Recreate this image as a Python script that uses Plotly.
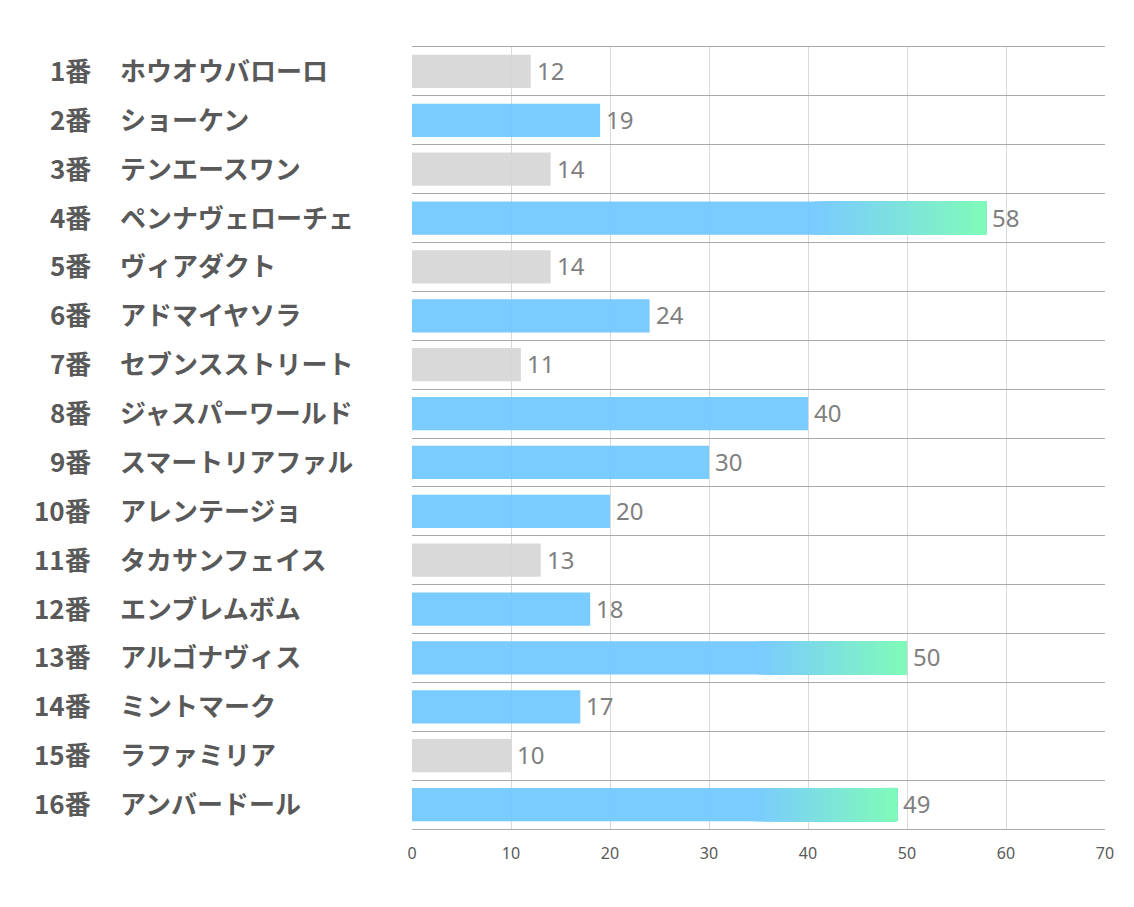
import plotly.graph_objects as go

numbers = ["1番", "2番", "3番", "4番", "5番", "6番", "7番", "8番",
           "9番", "10番", "11番", "12番", "13番", "14番", "15番", "16番"]
names = ["ホウオウバローロ", "ショーケン", "テンエースワン", "ペンナヴェローチェ",
         "ヴィアダクト", "アドマイヤソラ", "セブンスストリート", "ジャスパーワールド",
         "スマートリアファル", "アレンテージョ", "タカサンフェイス", "エンブレムボム",
         "アルゴナヴィス", "ミントマーク", "ラファミリア", "アンバードール"]
values = [12, 19, 14, 58, 14, 24, 11, 40, 30, 20, 13, 18, 50, 17, 10, 49]
x_ticks = [0, 10, 20, 30, 40, 50, 60, 70]

GRAY = "rgb(213,213,213)"          # drawn at 0.9 opacity -> ~#D9D9D9
BLUE_BASE = "rgb(107,197,255)"     # drawn at 0.9 opacity -> ~(122,203,255)
BLUE = (122, 203, 255)
GREEN = (128, 250, 186)
LOW_CUT = 15
HIGH_CUT = 45
GRAD_START = 0.7
N_SEG = 40

# page body has an 8px margin; figure is sized to fit the window
W, H = 1118, 891
ML, MR, MT, MB = 404, 21, 39, 70
PW = W - ML - MR

cats = [f"{n}_{i}" for i, n in enumerate(numbers)]
colors = [GRAY if v < LOW_CUT else BLUE_BASE for v in values]

fig = go.Figure()
fig.add_trace(go.Bar(
    y=cats, x=values, orientation="h",
    marker=dict(color=colors, line=dict(width=0), opacity=0.9),
    hoverinfo="skip", showlegend=False,
))

# gradient for high-value bars: each layer starts a bit later and runs to the bar end
for k in range(N_SEG):
    t = k / (N_SEG - 1)
    col = "rgb(%d,%d,%d)" % tuple(round(BLUE[c] + (GREEN[c] - BLUE[c]) * t) for c in range(3))
    ys, xs, bs = [], [], []
    for c, v in zip(cats, values):
        if v >= HIGH_CUT:
            start = v * GRAD_START + k * v * (1 - GRAD_START) / N_SEG
            ys.append(c)
            bs.append(start)
            xs.append(v - start)
    fig.add_trace(go.Bar(
        y=ys, x=xs, base=bs, orientation="h",
        marker=dict(color=col, line=dict(width=0)),
        hoverinfo="skip", showlegend=False,
    ))

annotations = []
for c, n, nm, v in zip(cats, numbers, names, values):
    annotations.append(dict(
        x=v, y=c, xref="x", yref="y", text=str(v), showarrow=False,
        xanchor="left", xshift=4, yshift=1,
        font=dict(family="Noto Sans, Open Sans, sans-serif", size=24, color="#7F7F7F"),
    ))
    annotations.append(dict(
        x=(93 - 8 - ML) / PW, y=c, xref="paper", yref="y", text=f"<b>{n}</b>",
        showarrow=False, xanchor="right", yshift=2,
        font=dict(family="Noto Sans CJK JP", size=26, color="#595959"),
    ))
    annotations.append(dict(
        x=(118 - 8 - ML) / PW, y=c, xref="paper", yref="y", text=f"<b>{nm}</b>",
        showarrow=False, xanchor="left", yshift=2,
        font=dict(family="Noto Sans CJK JP", size=26, color="#595959"),
    ))

fig.update_layout(
    width=W, height=H,
    margin=dict(l=ML, r=MR, t=MT, b=MB),
    paper_bgcolor="white", plot_bgcolor="white",
    barmode="overlay", bargap=0.32,
    annotations=annotations,
    xaxis=dict(
        range=[0, 70], tickvals=x_ticks, showgrid=True, gridcolor="#D9D9D9",
        gridwidth=1, zeroline=False,
        showline=True, mirror=True, linecolor="#A9A9A9", linewidth=1,
        ticks="", ticklabelstandoff=10,
        tickfont=dict(family="Noto Sans, sans-serif", size=16, color="#595959"),
    ),
    yaxis=dict(
        categoryorder="array", categoryarray=cats, autorange="reversed",
        showticklabels=False, ticks="", tickson="boundaries",
        showgrid=True, gridcolor="#A9A9A9", gridwidth=1, zeroline=False,
        showline=False,
    ),
)

fig.write_html("out.html")
